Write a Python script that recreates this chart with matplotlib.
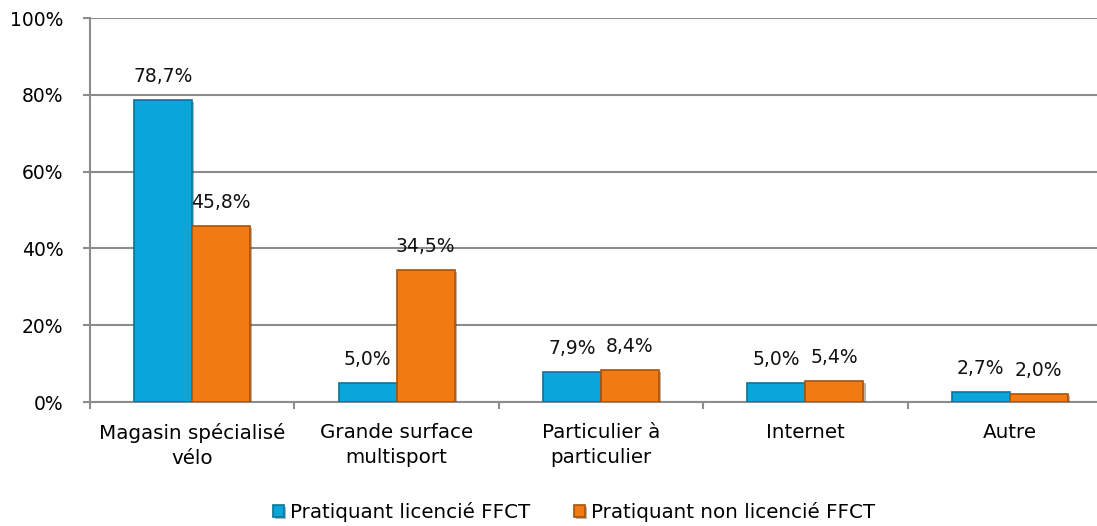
import matplotlib
matplotlib.use("Agg")
import matplotlib.pyplot as plt
import matplotlib.patheffects as pe
import numpy as np

categories = ["Magasin spécialisé\nvélo", "Grande surface\nmultisport", "Particulier à\nparticulier", "Internet", "Autre"]
licencie = [78.7, 5.0, 7.9, 5.0, 2.7]
non_licencie = [45.8, 34.5, 8.4, 5.4, 2.0]
series_names = ["Pratiquant licencié FFCT", "Pratiquant non licencié FFCT"]
yticks = [0, 20, 40, 60, 80, 100]

plt.rcParams['font.family'] = ['DejaVu Sans']

fig = plt.figure(figsize=(10.97, 5.26), dpi=100)
ax = fig.add_axes([90/1097, 124/526, 1022/1097, 384/526])

x = np.arange(len(categories))
w = 0.284
blue = "#0AA6DA"
orange = "#F27A12"
shadow = [pe.SimplePatchShadow(offset=(1.5, -1.5), alpha=0.35), pe.Normal()]
b1 = ax.bar(x - w/2, licencie, w, color=blue, edgecolor="#06759C", linewidth=1.2,
            label=series_names[0], zorder=3, path_effects=shadow)
b2 = ax.bar(x + w/2, non_licencie, w, color=orange, edgecolor="#A9520A", linewidth=1.2,
            label=series_names[1], zorder=3, path_effects=shadow)

def fmt(v):
    return f"{v:.1f}%".replace(".", ",")

for bars, vals in ((b1, licencie), (b2, non_licencie)):
    for r, v in zip(bars, vals):
        ax.annotate(fmt(v), (r.get_x() + r.get_width()/2, r.get_height()),
                    xytext=(0, 10), textcoords="offset points", ha="center", va="bottom",
                    fontsize=13.5, color="#111111")

ax.set_ylim(0, 100)
ax.set_xlim(-0.5, len(categories) - 0.5)
ax.set_yticks(yticks)
ax.set_yticklabels([f"{t}%" for t in yticks], fontsize=13.5)
ax.set_xticks(x)
ax.set_xticklabels(categories, fontsize=14.3, linespacing=1.38)
ax.set_xticks(np.arange(len(categories) + 1) - 0.5, minor=True)
ax.tick_params(axis="x", which="major", length=0, pad=15)
ax.tick_params(axis="x", which="minor", length=5, color="#8C8C8C", width=1.5)
ax.tick_params(axis="y", length=5, color="#8C8C8C", width=1.5, pad=14)
ax.grid(axis="y", color="#8C8C8C", linewidth=1.5, zorder=0)
for s in ["top", "right"]:
    ax.spines[s].set_visible(False)
ax.spines["left"].set_color("#8C8C8C")
ax.spines["left"].set_linewidth(1.5)
ax.spines["bottom"].set_color("#8C8C8C")
ax.spines["bottom"].set_linewidth(1.5)

leg = fig.legend(handles=[b1, b2], labels=series_names, loc="center", bbox_to_anchor=(574/1097, 1 - 512/526),
                 ncol=2, frameon=False, fontsize=14.3, handlelength=0.55, handleheight=0.55,
                 handletextpad=0.3, columnspacing=2.2)

fig.savefig("out.png", dpi=100)
